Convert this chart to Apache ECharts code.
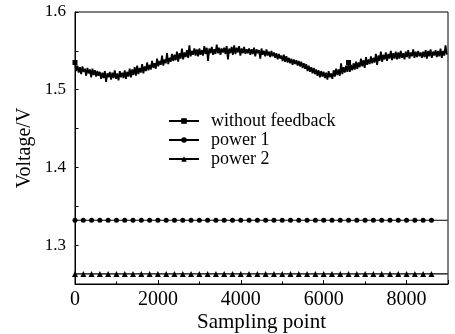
<!DOCTYPE html>
<html>
<head>
<meta charset="utf-8">
<script src="https://cdn.jsdelivr.net/npm/echarts@6/dist/echarts.min.js"></script>
<style>
html, body {margin:0; padding:0; background:#fff;}
#chart {width:455px; height:334px;}
</style>
</head>
<body>
<div id="chart"></div>
<script>
var seriesNames = ['without feedback', 'power 1', 'power 2'];

var sampleStep = 30;
var noFeedback = [
    1.535, 1.524, 1.531, 1.522, 1.529, 1.520, 1.530, 1.523, 1.527, 1.518, 1.528, 1.521, 1.526, 1.516, 1.527, 1.519, 1.525, 1.517, 1.524, 1.518,
    1.523, 1.514, 1.522, 1.515, 1.524, 1.510, 1.521, 1.516, 1.523, 1.513, 1.522, 1.515, 1.525, 1.514, 1.521, 1.512, 1.524, 1.516, 1.522, 1.515,
    1.525, 1.514, 1.523, 1.517, 1.527, 1.516, 1.526, 1.519, 1.529, 1.518, 1.531, 1.520, 1.528, 1.522, 1.533, 1.521, 1.530, 1.524, 1.535, 1.525,
    1.532, 1.526, 1.537, 1.528, 1.534, 1.527, 1.540, 1.530, 1.537, 1.532, 1.544, 1.531, 1.539, 1.534, 1.547, 1.533, 1.541, 1.536, 1.546, 1.537,
    1.545, 1.538, 1.549, 1.536, 1.547, 1.540, 1.553, 1.539, 1.548, 1.542, 1.551, 1.541, 1.557, 1.543, 1.550, 1.545, 1.553, 1.544, 1.552, 1.543,
    1.553, 1.545, 1.551, 1.544, 1.556, 1.546, 1.554, 1.537, 1.553, 1.547, 1.555, 1.545, 1.552, 1.546, 1.558, 1.547, 1.554, 1.545, 1.553, 1.548,
    1.554, 1.546, 1.556, 1.539, 1.553, 1.547, 1.555, 1.545, 1.557, 1.546, 1.554, 1.548, 1.556, 1.544, 1.553, 1.547, 1.555, 1.546, 1.552, 1.547,
    1.553, 1.545, 1.552, 1.546, 1.554, 1.543, 1.552, 1.547, 1.551, 1.540, 1.553, 1.545, 1.550, 1.543, 1.552, 1.544, 1.549, 1.542, 1.550, 1.543,
    1.548, 1.541, 1.547, 1.539, 1.546, 1.540, 1.544, 1.537, 1.545, 1.536, 1.543, 1.535, 1.541, 1.534, 1.540, 1.532, 1.539, 1.533, 1.538, 1.531,
    1.537, 1.530, 1.536, 1.528, 1.534, 1.527, 1.533, 1.524, 1.531, 1.523, 1.529, 1.521, 1.528, 1.520, 1.526, 1.518, 1.525, 1.516, 1.524, 1.517,
    1.523, 1.515, 1.522, 1.513, 1.524, 1.516, 1.521, 1.514, 1.525, 1.517, 1.527, 1.519, 1.526, 1.518, 1.534, 1.520, 1.529, 1.522, 1.531, 1.523,
    1.535, 1.523, 1.532, 1.525, 1.534, 1.526, 1.536, 1.527, 1.535, 1.529, 1.540, 1.530, 1.538, 1.528, 1.542, 1.532, 1.539, 1.533, 1.543, 1.534,
    1.541, 1.535, 1.546, 1.532, 1.544, 1.537, 1.549, 1.536, 1.545, 1.539, 1.548, 1.537, 1.546, 1.540, 1.550, 1.538, 1.547, 1.540, 1.549, 1.539,
    1.548, 1.540, 1.550, 1.541, 1.547, 1.539, 1.549, 1.542, 1.551, 1.540, 1.548, 1.543, 1.552, 1.541, 1.549, 1.542, 1.550, 1.543, 1.548, 1.541,
    1.549, 1.542, 1.551, 1.540, 1.550, 1.543, 1.552, 1.541, 1.549, 1.544, 1.551, 1.542, 1.550, 1.543, 1.553, 1.541, 1.550, 1.544, 1.557, 1.545
];
var markedIdx = [0, 220];   // squares visible above the noise band

// power-controlled traces: marker every 200 points, line runs to the end
var powerX = [0, 200, 400, 600, 800, 1000, 1200, 1400, 1600, 1800, 2000,
    2200, 2400, 2600, 2800, 3000, 3200, 3400, 3600, 3800, 4000, 4200, 4400,
    4600, 4800, 5000, 5200, 5400, 5600, 5800, 6000, 6200, 6400, 6600, 6800,
    7000, 7200, 7400, 7600, 7800, 8000, 8200, 8400, 8600, 8990];
var power1Level = 1.332;
var power2Level = 1.263;

var xTickLabels = ['0', '2000', '4000', '6000', '8000'];
var yTickLabels = ['1.3', '1.4', '1.5', '1.6'];

var font = '"Liberation Serif", "Times New Roman", serif';

var fbData = noFeedback.map(function (v, i) { return [i * sampleStep, v]; });
function flat(level) {
    return powerX.map(function (x, i) {
        var p = {value: [x, level]};
        if (i === powerX.length - 1) p.symbol = 'none';
        return p;
    });
}

var myChart = echarts.init(document.getElementById('chart'));
var option = {
    animation: false,
    grid: {left: 75, right: 7, top: 12, bottom: 50, show: true,
        outerBoundsMode: 'none', containLabel: false,
        borderColor: '#000', borderWidth: 1},
    legend: {
        data: seriesNames,
        orient: 'vertical',
        left: 168, top: 112, padding: 0,
        itemWidth: 30, itemHeight: 7, itemGap: 1,
        textStyle: {fontFamily: font, fontSize: 18, color: '#000', padding: [0, 0, 0, 7]}
    },
    xAxis: {
        type: 'value', min: 0, max: 9000, interval: 2000,
        name: 'Sampling point', nameLocation: 'middle', nameGap: 28,
        nameMoveOverlap: false,
        nameTextStyle: {fontFamily: font, fontSize: 21, color: '#000'},
        axisLine: {lineStyle: {color: '#000', width: 1}},
        axisTick: {inside: true, length: 4, lineStyle: {color: '#000'}},
        minorTick: {show: true, splitNumber: 2, length: 2.5, lineStyle: {color: '#000'}},
        splitLine: {show: false},
        axisLabel: {fontFamily: font, fontSize: 20, color: '#000', margin: 6,
            formatter: function (v) {
                var s = String(v);
                return xTickLabels.indexOf(s) >= 0 ? s : '';
            }}
    },
    yAxis: {
        type: 'value', min: 1.25, max: 1.6, interval: 0.05,
        name: 'Voltage/V', nameLocation: 'middle', nameGap: 40,
        nameMoveOverlap: false,
        nameTextStyle: {fontFamily: font, fontSize: 20, color: '#000'},
        axisLine: {lineStyle: {color: '#000', width: 1}},
        axisTick: {inside: true, length: 3.5, lineStyle: {color: '#000'}},
        splitLine: {show: false},
        axisLabel: {fontFamily: font, fontSize: 17, color: '#000', margin: 9,
            formatter: function (v) {
                var s = v.toFixed(1);
                return (Math.abs(v * 10 - Math.round(v * 10)) < 1e-6 && yTickLabels.indexOf(s) >= 0) ? s : '';
            }}
    },
    series: [
        {
            name: seriesNames[0], type: 'line', data: fbData,
            symbol: 'rect',
            symbolSize: function (val, params) {
                return markedIdx.indexOf(params.dataIndex) >= 0 ? 5 : 0;
            },
            showAllSymbol: true,
            lineStyle: {color: '#000', width: 1.8},
            itemStyle: {color: '#000'}
        },
        {
            name: seriesNames[1], type: 'line', data: flat(power1Level),
            symbol: 'circle', symbolSize: 5, showAllSymbol: true,
            lineStyle: {color: '#000', width: 1.2},
            itemStyle: {color: '#000'}
        },
        {
            name: seriesNames[2], type: 'line', data: flat(power2Level),
            symbol: 'triangle', symbolSize: 6, showAllSymbol: true,
            lineStyle: {color: '#000', width: 1.2},
            itemStyle: {color: '#000'}
        }
    ]
};
myChart.setOption(option);
</script>
</body>
</html>
